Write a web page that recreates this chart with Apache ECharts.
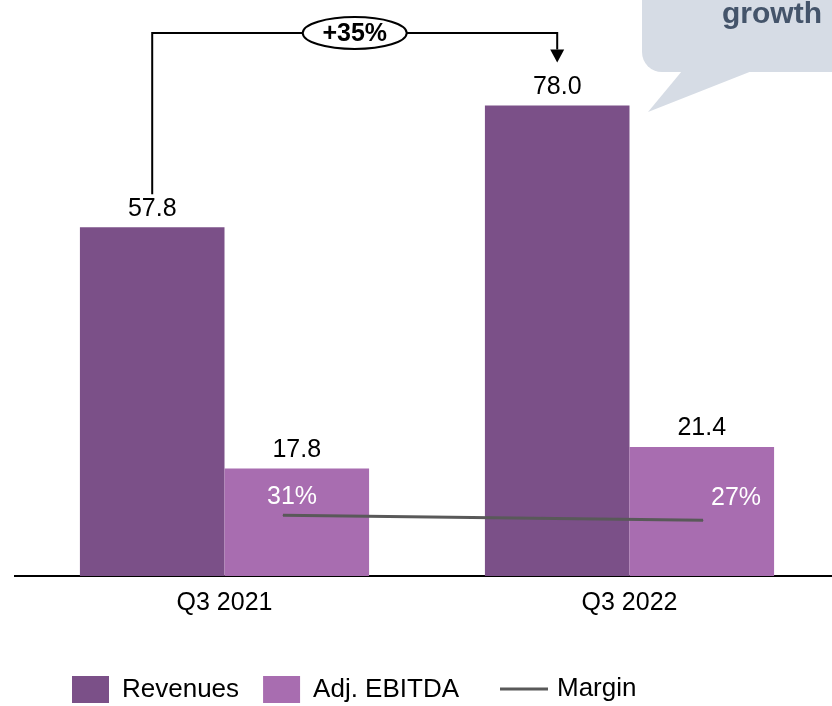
<!DOCTYPE html>
<html>
<head>
<meta charset="utf-8">
<script src="https://cdn.jsdelivr.net/npm/echarts@6/dist/echarts.min.js"></script>
<style>
  html, body { margin: 0; padding: 0; background: #fff; }
  #chart { width: 832px; height: 706px; }
</style>
</head>
<body>
<div id="chart"></div>
<script>
// Quarterly figures (EUR m) and Adj. EBITDA margin
const quarters = ['Q3 2021', 'Q3 2022'];
const revenues = [57.8, 78.0];
const adjEbitda = [17.8, 21.4];
const margin = [31, 27];
const growthLabel = '+35%';
const calloutText = 'growth';

const FONT = "'Liberation Sans', Arial, sans-serif";
const REV_COLOR = '#7b5088';
const EBITDA_COLOR = '#a86db0';
const LINE_COLOR = '#595959';
const CAT_GAP = 0.286;

// small per-point nudges for the white margin labels
const marginLabelOffsets = [[9, 0], [33, -4]];

const chart = echarts.init(document.getElementById('chart'), null, { renderer: 'canvas' });

const barLabel = {
  show: true,
  position: 'top',
  distance: 6,
  color: '#000',
  fontSize: 25,
  fontFamily: FONT
};

chart.setOption({
  animation: false,
  backgroundColor: '#fff',
  textStyle: { fontFamily: FONT },
  grid: [
    { left: 22, right: 0, top: 33, bottom: 130 },
    { left: 283, right: 129, top: 429, height: 125 }
  ],
  xAxis: [
    {
      type: 'category',
      gridIndex: 0,
      data: quarters,
      axisTick: { show: false },
      axisLine: { lineStyle: { color: '#000', width: 2 } },
      axisLabel: { color: '#000', fontSize: 25, margin: 15, fontFamily: FONT }
    },
    {
      type: 'category',
      gridIndex: 1,
      data: quarters,
      boundaryGap: false,
      show: false
    }
  ],
  yAxis: [
    { type: 'value', gridIndex: 0, min: 0, max: 90, show: false },
    { type: 'value', gridIndex: 1, min: 0, max: 100, show: false }
  ],
  legend: [
    {
      left: 67,
      top: 671,
      itemWidth: 37,
      itemHeight: 27,
      itemGap: 24,
      icon: 'rect',
      data: ['Revenues', 'Adj. EBITDA'],
      textStyle: { fontSize: 26, color: '#000', fontFamily: FONT, padding: [0, 0, 0, 8] }
    },
    {
      left: 495,
      top: 671,
      itemWidth: 48,
      itemHeight: 27,
      data: [{ name: 'Margin', icon: 'path://M0,12H48V15H0Z' }],
      textStyle: { fontSize: 26, color: '#000', fontFamily: FONT, padding: [0, 0, 0, 4] }
    }
  ],
  series: [
    {
      name: 'Revenues',
      type: 'bar',
      xAxisIndex: 0,
      yAxisIndex: 0,
      data: revenues,
      barGap: '0%',
      barCategoryGap: (CAT_GAP * 100) + '%',
      itemStyle: { color: REV_COLOR },
      label: Object.assign({}, barLabel, { formatter: p => p.value.toFixed(1) })
    },
    {
      name: 'Adj. EBITDA',
      type: 'bar',
      xAxisIndex: 0,
      yAxisIndex: 0,
      data: adjEbitda,
      barGap: '0%',
      barCategoryGap: (CAT_GAP * 100) + '%',
      itemStyle: { color: EBITDA_COLOR },
      label: Object.assign({}, barLabel, { formatter: p => p.value.toFixed(1) })
    },
    {
      name: 'Margin',
      type: 'line',
      xAxisIndex: 1,
      yAxisIndex: 1,
      symbol: 'circle',
      symbolSize: 1,
      showSymbol: true,
      z: 5,
      lineStyle: { color: LINE_COLOR, width: 3 },
      itemStyle: { color: LINE_COLOR },
      data: margin.map((v, i) => ({
        value: v,
        label: {
          show: true,
          position: 'top',
          distance: 5,
          offset: marginLabelOffsets[i],
          color: '#fff',
          fontSize: 25,
          fontFamily: FONT,
          formatter: p => p.value + '%'
        }
      }))
    }
  ]
});

// Growth bracket between the two revenue bars, plus the speech-bubble callout
function drawAnnotations() {
  const c0 = chart.convertToPixel({ xAxisIndex: 0 }, quarters[0]);
  const c1 = chart.convertToPixel({ xAxisIndex: 0 }, quarters[1]);
  const band = c1 - c0;
  const barW = band * (1 - CAT_GAP) / 2;
  const xL = c0 - barW / 2;
  const xR = c1 - barW / 2;
  const topL = chart.convertToPixel({ yAxisIndex: 0 }, revenues[0]);
  const topR = chart.convertToPixel({ yAxisIndex: 0 }, revenues[1]);
  const baseY = chart.convertToPixel({ yAxisIndex: 0 }, 0);
  const yBar = 33;
  const startY = topL - 33;
  const tipY = topR - 43;
  const midX = (xL + xR) / 2;

  chart.setOption({
    graphic: [
      {
        // baseline runs a little past the plot's left edge
        type: 'line',
        z: 10,
        shape: { x1: 14, y1: baseY, x2: 24, y2: baseY },
        style: { stroke: '#000', lineWidth: 2 }
      },
      {
        type: 'polyline',
        z: 10,
        shape: { points: [[xL, startY], [xL, yBar], [xR, yBar], [xR, tipY - 13]] },
        style: { stroke: '#000', lineWidth: 2, fill: null }
      },
      {
        type: 'polygon',
        z: 10,
        shape: { points: [[xR - 7, tipY - 13], [xR + 7, tipY - 13], [xR, tipY]] },
        style: { fill: '#000' }
      },
      {
        type: 'ellipse',
        z: 11,
        shape: { cx: midX, cy: yBar, rx: 52, ry: 16 },
        style: { fill: '#fff', stroke: '#000', lineWidth: 2 }
      },
      {
        type: 'text',
        z: 12,
        x: midX,
        y: yBar + 1,
        style: {
          text: growthLabel,
          fill: '#000',
          font: 'bold 25px ' + FONT,
          align: 'center',
          verticalAlign: 'middle'
        }
      },
      {
        type: 'rect',
        z: 8,
        shape: { x: 642, y: -40, width: 230, height: 112, r: 20 },
        style: { fill: '#d6dce5' }
      },
      {
        type: 'polygon',
        z: 8,
        shape: { points: [[682, 71], [752, 71], [648, 112]] },
        style: { fill: '#d6dce5' }
      },
      {
        type: 'text',
        z: 9,
        x: 822,
        y: 15,
        style: {
          text: calloutText,
          fill: '#44546a',
          font: 'bold 30px ' + FONT,
          align: 'right',
          verticalAlign: 'middle'
        }
      }
    ]
  });
}
drawAnnotations();
</script>
</body>
</html>
